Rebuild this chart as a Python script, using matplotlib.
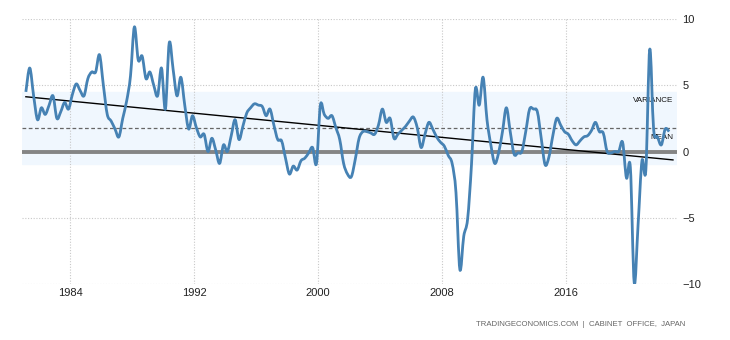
import numpy as np
import pandas as pd
import matplotlib
matplotlib.use("Agg")
import matplotlib.pyplot as plt
from matplotlib.path import Path
from matplotlib.patches import PathPatch
from matplotlib.transforms import ScaledTranslation

plt.rcParams['font.family'] = ['Liberation Sans', 'DejaVu Sans']

# Japan GDP annual growth rate, quarterly, 1981Q1 - 2022Q3
quarters = pd.period_range("1981Q1", "2022Q3", freq="Q")
growth = [
    4.5, 6.3, 4.2, 2.4, 3.3, 2.8, 3.5, 4.2, 2.5, 3.0,
    3.7, 3.2, 4.3, 5.1, 4.6, 4.2, 5.5, 6.0, 6.0, 7.3,
    5.0, 2.8, 2.3, 1.7, 1.1, 2.5, 3.8, 5.7, 9.4, 6.9,
    7.2, 5.5, 6.0, 5.0, 4.2, 6.3, 3.2, 8.2, 6.2, 4.2,
    5.6, 3.5, 1.7, 2.7, 1.8, 1.1, 1.3, 0.0, 1.0, 0.1,
    -0.9, 0.5, 0.0, 1.2, 2.4, 0.9, 1.9, 2.9, 3.3, 3.6,
    3.5, 3.4, 2.7, 3.2, 2.0, 0.9, 0.8, -0.5, -1.7, -1.1,
    -1.4, -0.7, -0.5, -0.1, 0.3, -0.9, 3.5, 2.8, 2.5, 2.7,
    1.8, 0.9, -0.9, -1.7, -1.9, -0.6, 1.0, 1.5, 1.5, 1.4,
    1.3, 2.0, 3.2, 2.2, 2.5, 1.0, 1.3, 1.6, 1.9, 2.3,
    2.6, 1.8, 0.3, 1.3, 2.2, 1.7, 1.1, 0.7, 0.4, -0.3,
    -0.9, -3.1, -8.9, -6.4, -5.1, -1.0, 4.7, 3.5, 5.6, 2.4,
    0.5, -0.9, -0.1, 1.5, 3.3, 1.5, -0.2, -0.1, 0.0, 1.5,
    3.2, 3.2, 3.0, 1.0, -1.0, -0.4, 1.2, 2.5, 2.0, 1.5,
    1.3, 0.8, 0.5, 0.8, 1.1, 1.2, 1.6, 2.2, 1.5, 1.4,
    0.0, -0.1, 0.0, 0.0, 0.7, -2.0, -1.2, -9.9, -5.5, -0.7,
    -1.4, 7.7, 1.7, 1.1, 0.5, 1.7, 1.5,
]
year_ticks = [1984, 1992, 2000, 2008, 2016]
value_ticks = [-10, -5, 0, 5, 10]

x = np.array([p.year + (p.quarter - 0.4) / 4 for p in quarters])
y = np.array(growth)

mean = y.mean()
std = y.std()
slope, icpt = np.polyfit(x, y, 1)


def spline_path(xs, ys):
    # smooth curve through the points (cubic Bezier segments, Catmull-Rom style)
    pts = np.column_stack([xs, ys])
    padded = np.vstack([pts[0], pts, pts[-1]])
    verts = [pts[0]]
    codes = [Path.MOVETO]
    for i in range(len(pts) - 1):
        p0, p1, p2, p3 = padded[i], padded[i + 1], padded[i + 2], padded[i + 3]
        verts += [p1 + (p2 - p0) / 6, p2 - (p3 - p1) / 6, p2]
        codes += [Path.CURVE4] * 3
    return Path(verts, codes)


fig = plt.figure(figsize=(7.3, 3.4), dpi=100)
ax = fig.add_axes([22 / 730, 56 / 340, 655 / 730, 265 / 340])

ax.set_xlim(1980.9, 2023.16)
ax.set_ylim(-10, 10)

# variance band, mean line, zero line, trend line
ax.axhspan(mean - std, mean + std, color="#f0f7fe", zorder=0)
ax.axhline(mean, color="#666666", ls=(0, (3, 2)), lw=0.9, zorder=2)
ax.axhline(0, color="#858585", lw=2.8, zorder=2)
tx = np.array([x[0], x[-1] + 0.25])
ax.plot(tx, slope * tx + icpt, color="black", lw=1, zorder=3)

ax.add_patch(PathPatch(spline_path(x, y), facecolor="none", edgecolor="#4682b4",
                       lw=2, joinstyle="round", zorder=4))

shift = ScaledTranslation(0, -4 / 72, fig.dpi_scale_trans)
ax.text(x[-1] + 0.25, mean + std, "VARIANCE", fontsize=5.8, ha="right",
        va="top", color="#111111", transform=ax.transData + shift)
ax.text(x[-1] + 0.25, mean, "MEAN", fontsize=5.8, ha="right", va="top",
        color="#111111", transform=ax.transData + shift)

ax.set_xticks(year_ticks)
ax.set_xticklabels([str(t) for t in year_ticks])
ax.set_yticks(value_ticks)
ax.yaxis.tick_right()
ax.tick_params(length=0, labelsize=8, colors="#222222", pad=3)
ax.tick_params(axis="y", pad=4)
ax.grid(True, color="#c8c8c8", ls=(0, (1, 1.5)), lw=0.8)
ax.set_axisbelow(True)
for s in ax.spines.values():
    s.set_visible(False)

fig.text(685 / 730, 1 - 325 / 340, "TRADINGECONOMICS.COM  |  CABINET  OFFICE,  JAPAN",
         fontsize=5.6, color="#666666", ha="right", va="center")

fig.savefig("out.png", dpi=100)
